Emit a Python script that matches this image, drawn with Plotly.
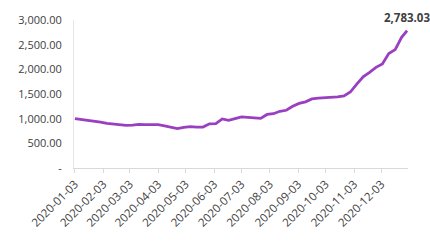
import plotly.graph_objects as go
import pandas as pd

dates = pd.date_range("2020-01-03", periods=52, freq="7D").strftime("%Y-%m-%d").tolist() + ["2020-12-31"]
values = [1000, 985, 965, 960, 930, 905, 890, 870, 862, 870,
          885, 880, 882, 878, 855, 825, 800, 825, 840, 830,
          830, 895, 900, 995, 965, 1000, 1035, 1025, 1020, 1005,
          1085, 1100, 1150, 1170, 1250, 1310, 1340, 1400, 1415, 1420,
          1430, 1440, 1460, 1540, 1700, 1850, 1940, 2040, 2110, 2320,
          2400, 2650, 2783.03]

x_ticks = ["2020-%02d-03" % m for m in range(1, 13)]
y_ticks = [0, 500, 1000, 1500, 2000, 2500, 3000]
y_labels = ["-", "500.00", "1,000.00", "1,500.00", "2,000.00", "2,500.00", "3,000.00"]
last_label = "2,783.03"

fig = go.Figure()
fig.add_trace(go.Scatter(x=dates, y=values, mode="lines",
                         line=dict(color="#9A3FC0", width=2.8),
                         hoverinfo="skip"))
fig.add_annotation(x=dates[-1], y=values[-1], text="<b>" + last_label + "</b>",
                   showarrow=False, yanchor="bottom", xanchor="center", yshift=4,
                   font=dict(family="Open Sans, sans-serif", size=11.5, color="#404040"))

fig.update_layout(
    width=430, height=242,
    margin=dict(l=74, r=22, t=14, b=65),
    paper_bgcolor="white", plot_bgcolor="white",
    showlegend=False,
    font=dict(family="Open Sans, sans-serif", color="#404040"),
)
fig.update_xaxes(type="date", range=["2020-01-02", "2021-01-01"],
                 tickvals=x_ticks, ticktext=x_ticks, tickangle=-45,
                 tickfont=dict(size=11.5, color="#404040"),
                 showgrid=False, zeroline=False,
                 showline=True, linecolor="#D9D9D9", linewidth=1,
                 ticks="outside", ticklen=4, tickcolor="#D9D9D9")
fig.update_yaxes(range=[0, 3000], tickvals=y_ticks, ticktext=y_labels,
                 tickfont=dict(size=11, color="#404040"),
                 showgrid=False, zeroline=False,
                 showline=True, linecolor="#E6E6E6", linewidth=1,
                 ticks="", ticklabelstandoff=9)

fig.write_html("out.html")
